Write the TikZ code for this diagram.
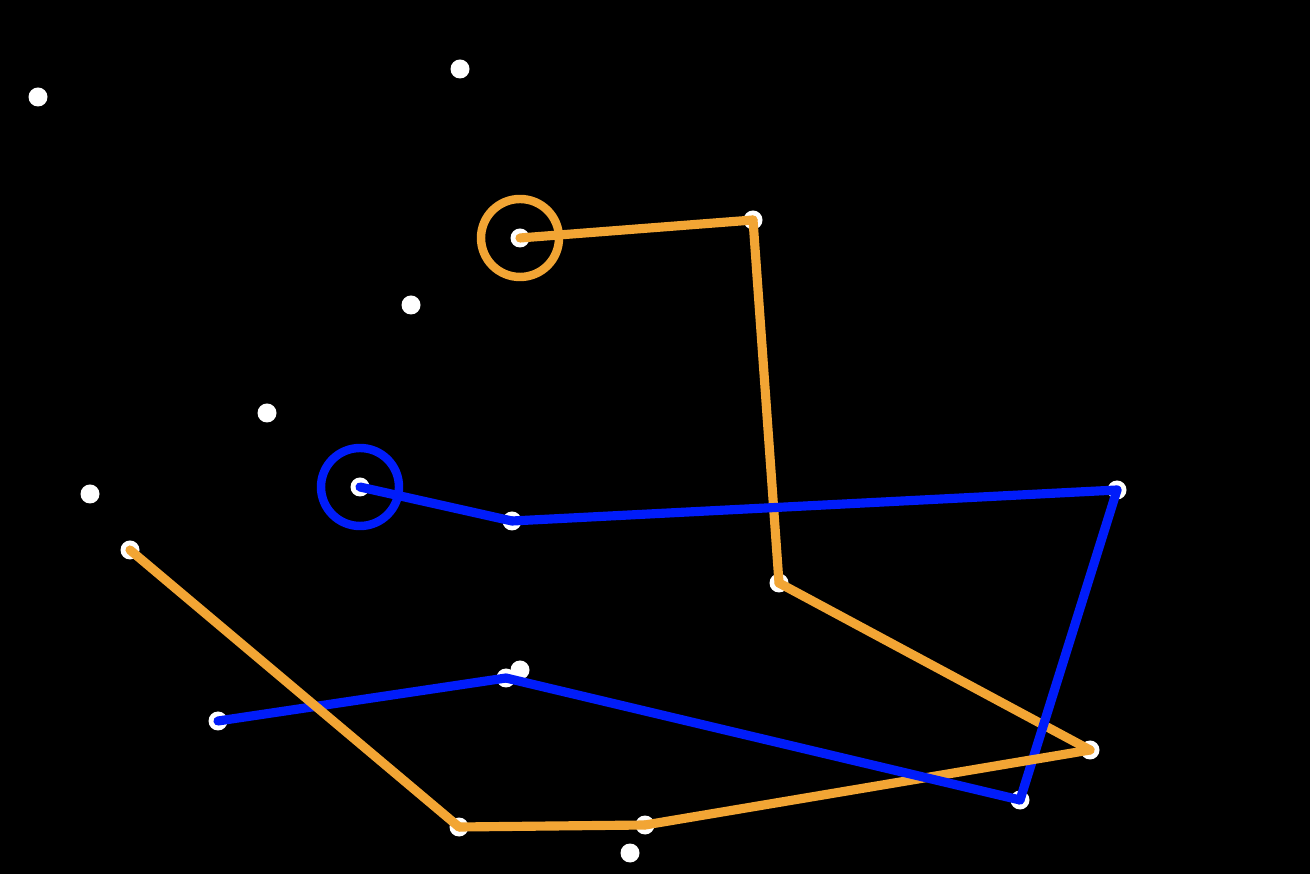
\documentclass[tikz,border=0pt]{standalone}
\definecolor{pathorange}{RGB}{242,165,52}
\definecolor{pathblue}{RGB}{0,28,250}
\tikzset{
  dotstyle/.style={fill=white},
  orangeline/.style={draw=pathorange,line width=2.6pt,line cap=round},
  blueline/.style={draw=pathblue,line width=2.6pt,line cap=round},
}
\begin{document}
\begin{tikzpicture}[x=0.01cm,y=-0.01cm]
\fill[black] (0,0) rectangle (1310,874);
\useasboundingbox (0,0) rectangle (1310,874);
% white points
\coordinate (w1) at (38,97);
\coordinate (w2) at (460,69);
\coordinate (w3) at (411,305);
\coordinate (w4) at (267,413);
\coordinate (w5) at (90,494);
\coordinate (w6) at (520,670);
\coordinate (w7) at (630,853);
% orange path
\coordinate (o1) at (520,238);
\coordinate (o2) at (753,220);
\coordinate (o3) at (779,583);
\coordinate (o4) at (1090,750);
\coordinate (o5) at (645,825);
\coordinate (o6) at (459,827);
\coordinate (o7) at (130,550);
% blue path
\coordinate (b1) at (360,487);
\coordinate (b2) at (512,521);
\coordinate (b3) at (1117,490);
\coordinate (b4) at (1020,800);
\coordinate (b5) at (506,678);
\coordinate (b6) at (218,721);
\foreach \p in {w1,w2,w3,w4,w5,w6,w7,o1,o2,o3,o4,o5,o6,o7,b1,b2,b3,b4,b5,b6}
  \fill[dotstyle] (\p) circle[radius=9.5];
% segments drawn alternately
\draw[orangeline] (o1) -- (o2);
\draw[blueline] (b1) -- (b2);
\draw[orangeline] (o2) -- (o3);
\draw[blueline] (b2) -- (b3);
\draw[orangeline] (o3) -- (o4);
\draw[blueline] (b3) -- (b4);
\draw[orangeline] (o4) -- (o5);
\draw[blueline] (b4) -- (b5);
\draw[orangeline] (o5) -- (o6);
\draw[blueline] (b5) -- (b6);
\draw[orangeline] (o6) -- (o7);
\draw[pathorange,line width=2.4pt] (o1) circle[radius=39];
\draw[pathblue,line width=2.4pt] (b1) circle[radius=39];
\end{tikzpicture}
\end{document}
